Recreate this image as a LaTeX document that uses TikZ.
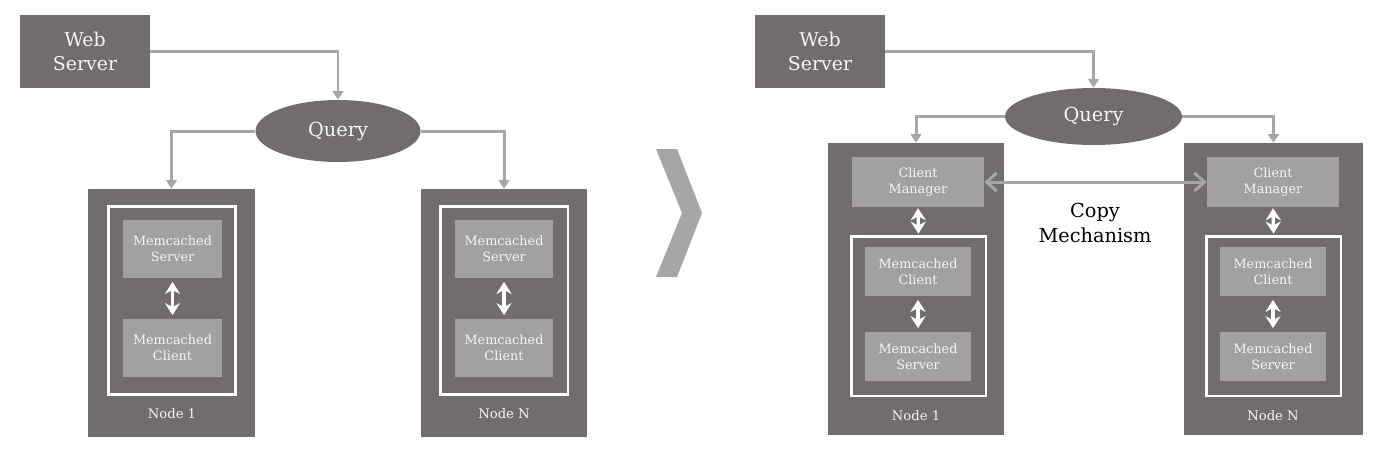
\documentclass[tikz,border=0pt]{standalone}
\usepackage{fontspec}
\setmainfont{DejaVu Serif}
\usetikzlibrary{shapes.geometric,arrows.meta}
\definecolor{boxdark}{HTML}{716D6C}
\definecolor{boxlight}{HTML}{A3A1A0}
\definecolor{linegray}{HTML}{A6A6A6}
\definecolor{txtwhite}{HTML}{F4F4F4}
\begin{document}
\begin{tikzpicture}[x=0.02cm, y=-0.02cm,
    bigbox/.style={fill=boxdark, text=txtwhite, align=center, inner sep=0pt, minimum width=2.6cm, minimum height=1.46cm, font=\fontsize{10.8}{13.7}\selectfont},
    query/.style={ellipse, fill=boxdark, text=txtwhite, inner sep=0pt, font=\fontsize{11}{13}\selectfont},
    host/.style={fill=boxdark, inner sep=0pt},
    frame/.style={draw=white, line width=1.7pt, inner sep=0pt},
    part/.style={fill=boxlight, text=txtwhite, align=center, inner sep=0pt, font=\fontsize{7.3}{9.1}\selectfont},
    hostlabel/.style={text=txtwhite, font=\fontsize{7.5}{9}\selectfont},
    arrow/.style={-{Triangle[length=1.7mm,width=2.1mm]}, draw=linegray, line width=1.7pt},
    link/.style={{Stealth[length=2.4mm,width=3mm]}-{Stealth[length=2.4mm,width=3mm]}, draw=white, line width=1.8pt, shorten <=2pt, shorten >=2pt},
    copy/.style={{Straight Barb[length=2mm,width=3.6mm]}-{Straight Barb[length=2mm,width=3.6mm]}, draw=linegray, line width=1.7pt}
]
    \useasboundingbox (0,0) rectangle (1382,454);

    % --- left: one memcached server per node ---
    \node[bigbox] (web1) at (85,51.5) {Web\\Server};
    \node[query, minimum width=3.3cm, minimum height=1.24cm] (query1) at (338,131) {Query};

    \node[host, minimum width=3.34cm, minimum height=4.96cm] (host1) at (171.5,313) {};
    \node[frame, minimum width=2.56cm, minimum height=3.78cm] (frame1) at (172,300.5) {};
    \node[part, minimum width=1.98cm, minimum height=1.16cm] (mserver1) at (172.5,249) {Memcached\\Server};
    \node[part, minimum width=1.98cm, minimum height=1.16cm] (mclient1) at (172.5,348) {Memcached\\Client};
    \node[hostlabel] (label1) at (172,414) {Node 1};

    \node[host, minimum width=3.34cm, minimum height=4.96cm] (hostn) at (504,313) {};
    \node[frame, minimum width=2.56cm, minimum height=3.78cm] (framen) at (504,300.5) {};
    \node[part, minimum width=1.98cm, minimum height=1.16cm] (mservern) at (504,249) {Memcached\\Server};
    \node[part, minimum width=1.98cm, minimum height=1.16cm] (mclientn) at (504,348) {Memcached\\Client};
    \node[hostlabel] (labeln) at (504,414) {Node N};

    \draw[arrow] (web1.east) -| (query1.north);
    \draw[arrow] (query1.west) -| (host1.north);
    \draw[arrow] (query1.east) -| (hostn.north);
    \draw[link] (mserver1.south) -- (mclient1.north);
    \draw[link] (mservern.south) -- (mclientn.north);

    % --- chevron ---
    \fill[linegray] (656,149) -- (677,149) -- (702,213) -- (677,277) -- (656,277) -- (682,213) -- cycle;

    % --- right: client manager with copy mechanism ---
    \node[bigbox] (web2) at (820,51.5) {Web\\Server};
    \node[query, minimum width=3.54cm, minimum height=1.14cm] (query2) at (1093.5,116.5) {Query};

    \node[host, minimum width=3.54cm, minimum height=5.84cm] (host2) at (916,289) {};
    \node[part, minimum width=2.64cm, minimum height=1.0cm] (cman1) at (918,182) {Client\\Manager};
    \node[frame, minimum width=2.7cm, minimum height=3.2cm] (frame2) at (918.5,316) {};
    \node[part, minimum width=2.12cm, minimum height=0.98cm] (mclient2) at (918,271.5) {Memcached\\Client};
    \node[part, minimum width=2.12cm, minimum height=0.98cm] (mserver2) at (918,356.5) {Memcached\\Server};
    \node[hostlabel] (label2) at (916,416) {Node 1};

    \node[host, minimum width=3.58cm, minimum height=5.84cm] (hostm) at (1273.5,289) {};
    \node[part, minimum width=2.64cm, minimum height=1.0cm] (cmanm) at (1273,182) {Client\\Manager};
    \node[frame, minimum width=2.7cm, minimum height=3.2cm] (framem) at (1273.5,316) {};
    \node[part, minimum width=2.12cm, minimum height=0.98cm] (mclientm) at (1273,271.5) {Memcached\\Client};
    \node[part, minimum width=2.12cm, minimum height=0.98cm] (mserverm) at (1273,356.5) {Memcached\\Server};
    \node[hostlabel] (labelm) at (1273,416) {Node N};

    \node[align=center, font=\fontsize{11}{14}\selectfont] (copytext) at (1095,223) {Copy\\Mechanism};

    \draw[arrow] (web2.east) -| (query2.north);
    \draw[arrow] (query2.west) -| (host2.north);
    \draw[arrow] (query2.east) -| (hostm.north);
    \draw[copy] (cman1.east) -- (cmanm.west);
    \draw[link, shorten <=0.5pt, shorten >=0.5pt] (cman1.south) -- (frame2.north);
    \draw[link, shorten <=0.5pt, shorten >=0.5pt] (cmanm.south) -- (framem.north);
    \draw[link] (mclient2.south) -- (mserver2.north);
    \draw[link] (mclientm.south) -- (mserverm.north);
\end{tikzpicture}
\end{document}
